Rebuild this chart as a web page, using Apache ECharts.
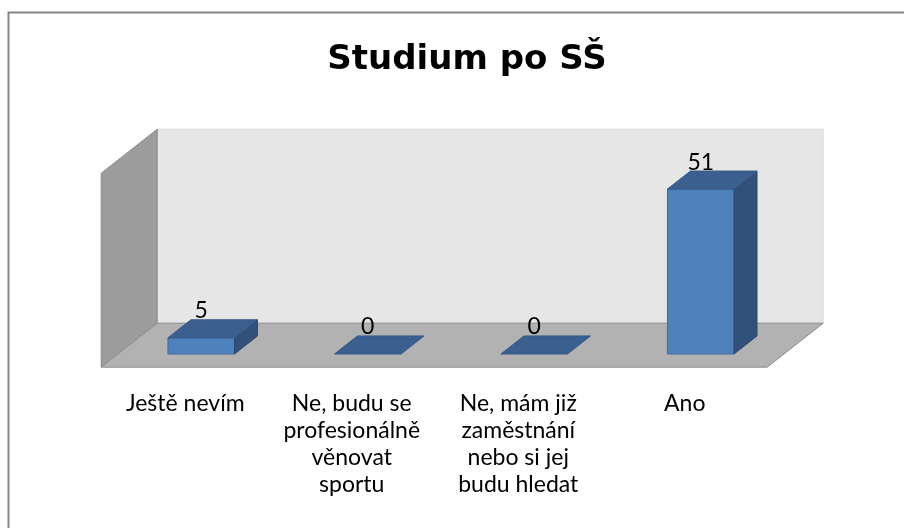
<!DOCTYPE html>
<html>
<head>
<meta charset="utf-8">
<script src="https://cdn.jsdelivr.net/npm/echarts@6/dist/echarts.min.js"></script>
<style>
  html, body { margin: 0; padding: 0; background: #fff; }
  #chart { width: 904px; height: 528px; }
</style>
</head>
<body>
<div id="chart"></div>
<script>
const categories = [
  'Ještě nevím',
  'Ne, budu se\nprofesionálně\nvěnovat\nsportu',
  'Ne, mám již\nzaměstnání\nnebo si jej\nbudu hledat',
  'Ano',
]
const values = [5, 0, 0, 51]
const chartTitle = 'Studium po SŠ'

const FONT = 'Lato, "Noto Sans", sans-serif'
// full depth of the 3D box, and where the bars sit inside it
const DEPTH = [56, -44]
const BAR_FRONT = 0.3
const BAR_DEPTH = 0.41

const chart = echarts.init(document.getElementById('chart'))

function shift(p, k) {
  return [p[0] + DEPTH[0] * k, p[1] + DEPTH[1] * k]
}

function renderWalls(params, api) {
  const cs = params.coordSys
  const x0 = cs.x
  const x1 = cs.x + cs.width
  const yTop = cs.y
  const yBot = cs.y + cs.height
  const f = -BAR_FRONT
  const b = 1 - BAR_FRONT
  const fl = shift([x0, yBot], f)
  const bl = shift([x0, yBot], b)
  const br = shift([x1, yBot], b)
  const fr = shift([x1, yBot], f)
  const tl = shift([x0, yTop], f)
  const tb = shift([x0, yTop], b)
  const tr = shift([x1, yTop], b)
  return {
    type: 'group',
    children: [
      {
        type: 'polygon',
        shape: { points: [tb, tr, br, bl] },
        style: { fill: '#e6e6e6', stroke: '#dadada', lineWidth: 1 },
      },
      {
        type: 'polygon',
        shape: { points: [tl, tb, bl, fl] },
        style: { fill: '#9c9c9c', stroke: '#8c8c8c', lineWidth: 1 },
      },
      {
        type: 'polygon',
        shape: { points: [fl, bl, br, fr] },
        style: { fill: '#b2b2b2', stroke: '#8e8e8e', lineWidth: 1 },
      },
    ],
  }
}

function renderBar(params, api) {
  const idx = api.value(0)
  const val = api.value(1)
  const base = api.coord([idx, 0])
  const top = api.coord([idx, val])
  const w = api.size([1, 0])[0] * 0.4
  const xl = base[0] - w / 2
  const xr = base[0] + w / 2
  const d = BAR_DEPTH
  const children = []
  if (val > 0) {
    children.push({
      type: 'polygon',
      shape: { points: [[xl, top[1]], [xr, top[1]], [xr, base[1]], [xl, base[1]]] },
      style: { fill: '#4f81bd', stroke: '#41699b', lineWidth: 1 },
    })
    children.push({
      type: 'polygon',
      shape: { points: [[xr, top[1]], shift([xr, top[1]], d), shift([xr, base[1]], d), [xr, base[1]]] },
      style: { fill: '#31507a', stroke: '#2d4a72', lineWidth: 1 },
    })
  }
  children.push({
    type: 'polygon',
    shape: { points: [[xl, top[1]], shift([xl, top[1]], d), shift([xr, top[1]], d), [xr, top[1]]] },
    style: { fill: '#3b5f8f', stroke: '#36598a', lineWidth: 1 },
  })
  children.push({
    type: 'text',
    style: {
      text: String(val),
      x: base[0],
      y: top[1] - 27,
      align: 'center',
      verticalAlign: 'middle',
      font: '23px ' + FONT,
      fill: '#000',
    },
  })
  return { type: 'group', children }
}

chart.setOption({
  animation: false,
  title: {
    text: chartTitle,
    left: 462,
    top: 38,
    textAlign: 'center',
    textStyle: { fontFamily: '"DejaVu Sans", sans-serif', fontSize: 34, fontWeight: 'bold', color: '#000' },
  },
  graphic: [
    {
      type: 'rect',
      left: 6,
      top: 10,
      shape: { width: 920, height: 540 },
      style: { fill: 'none', stroke: '#868686', lineWidth: 2 },
      z: 100,
    },
  ],
  grid: { left: 118, right: 120, top: 160, bottom: 174 },
  xAxis: {
    type: 'category',
    data: categories,
    axisLine: { show: false },
    axisTick: { show: false },
    axisLabel: {
      interval: 0,
      margin: 36,
      padding: [0, 32, 0, 0],
      fontFamily: FONT,
      fontSize: 23,
      lineHeight: 27,
      color: '#000',
    },
  },
  yAxis: {
    type: 'value',
    min: 0,
    max: 60,
    show: false,
  },
  series: [
    {
      type: 'custom',
      renderItem: renderWalls,
      data: [[0, 0]],
      z: 1,
      silent: true,
    },
    {
      type: 'custom',
      renderItem: renderBar,
      data: values.map((v, i) => [i, v]),
      encode: { x: 0, y: 1 },
      z: 2,
    },
  ],
})
</script>
</body>
</html>
